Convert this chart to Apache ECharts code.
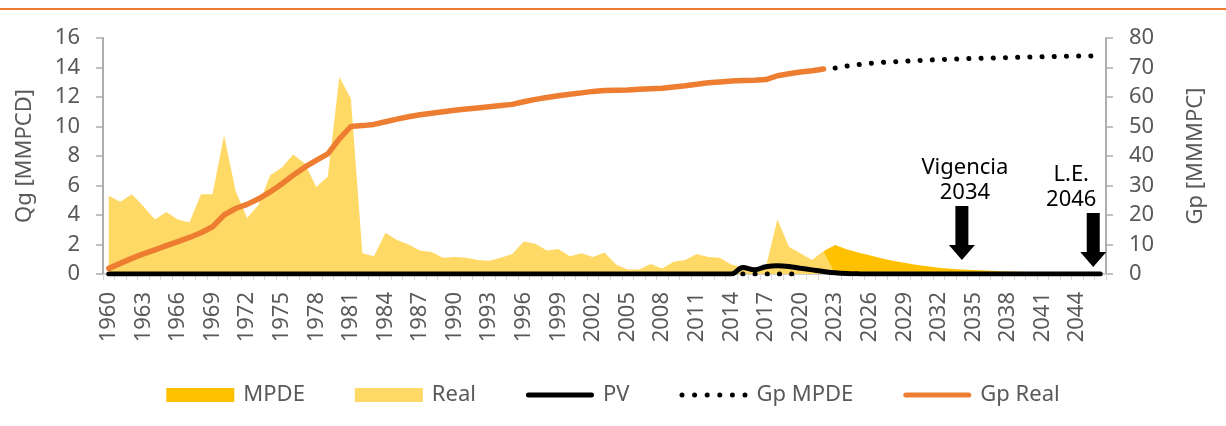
<!DOCTYPE html>
<html>
<head>
<meta charset="utf-8">
<script src="https://cdn.jsdelivr.net/npm/echarts@6/dist/echarts.min.js"></script>
<style>
  html, body { margin: 0; padding: 0; background: #fff; }
  #chart { width: 1226px; height: 426px; }
</style>
</head>
<body>
<div id="chart"></div>
<script>
// años 1960 - 2046
var years = [];
for (let y = 1960; y <= 2046; y++) years.push(String(y));

// Qg real [MMPCD], 1960 - 2023
var realVals = [5.3,4.9,5.4,4.6,3.7,4.2,3.7,3.5,5.4,5.4,
  9.4,5.65,3.8,4.7,6.7,7.2,8.1,7.5,5.9,6.6,
  13.35,11.9,1.4,1.2,2.8,2.3,2.0,1.6,1.5,1.1,
  1.15,1.1,0.95,0.9,1.1,1.35,2.2,2.05,1.6,1.7,
  1.2,1.4,1.15,1.45,0.65,0.3,0.3,0.68,0.38,0.83,
  0.95,1.35,1.15,1.1,0.65,0.45,0.35,0.5,3.7,1.85,
  1.4,0.95,1.56,0];
var realStart = 1960;

// Qg MPDE [MMPCD], 2022 - 2046
var mpdeVals = [1.55,1.97,1.68,1.45,1.27,1.06,0.9,0.77,0.63,0.52,
  0.43,0.36,0.31,0.27,0.23,0.2,0.17,0.15,0.13,0.11,
  0.1,0.09,0.08,0.07,0.06];
var mpdeStart = 2022;

// PV [MMPCD], 2015 - 2025 (cero el resto)
var pvVals = [0.44,0.29,0.49,0.56,0.51,0.39,0.28,0.17,0.08,0.03,0.01];
var pvStart = 2015;

// Gp real [MMMPC], 1960 - 2022
var gpRealVals = [1.9,3.6,5.3,6.8,8.2,9.6,11.0,12.4,14.0,16.0,
  20.0,22.2,23.6,25.5,27.8,30.5,33.5,36.2,38.5,40.7,
  45.8,50.0,50.3,50.7,51.6,52.5,53.3,54.0,54.5,55.0,
  55.5,55.9,56.3,56.7,57.1,57.5,58.4,59.2,59.8,60.4,
  60.9,61.4,61.9,62.2,62.3,62.4,62.6,62.8,63.0,63.4,
  63.8,64.3,64.8,65.1,65.4,65.6,65.7,65.9,67.2,67.9,
  68.5,68.9,69.5];
var gpRealStart = 1960;

// Gp MPDE [MMMPC]: 2015 - 2020 en cero, luego 2023 - 2046
var gpMpdeZeroVals = [0,0,0,0,0,0];
var gpMpdeZeroStart = 2015;
var gpMpdeVals = [69.8,70.5,71.0,71.4,71.7,71.9,72.1,72.3,72.5,72.7,
  72.8,72.95,73.05,73.15,73.25,73.35,73.45,73.55,73.65,73.7,
  73.8,73.85,73.9,73.95];
var gpMpdeStart = 2023;

var yLeftTicks = { min: 0, max: 16, interval: 2 };
var yRightTicks = { min: 0, max: 80, interval: 10 };

function place(vals, start, fill) {
  var out = years.map(function () { return fill; });
  var off = years.indexOf(String(start));
  for (let i = 0; i < vals.length; i++) out[off + i] = vals[i];
  return out;
}

var realData = place(realVals, realStart, null);
var mpdeData = place(mpdeVals, mpdeStart, null);
var pvData = place(pvVals, pvStart, 0);
var gpRealData = place(gpRealVals, gpRealStart, null);
var gpMpdeData = place(gpMpdeZeroVals, gpMpdeZeroStart, null);
gpMpdeVals.forEach(function (v, i) {
  gpMpdeData[years.indexOf(String(gpMpdeStart)) + i] = v;
});

var FONT = 'Noto Sans';
var GREY = '#595959';
var arrow = 'path://M6.5,0 L19.5,0 L19.5,39 L26,39 L13,54 L0,39 L6.5,39 Z';
// iconos de leyenda: linea gruesa y linea de puntos
var lineIcon = 'path://M2.5,0 H65.5 A2.5,2.5 0 0 1 65.5,5 H2.5 A2.5,2.5 0 0 1 2.5,0 Z';
var dotIcon = 'path://';
for (let k = 0; k < 6; k++) {
  let cx = 2.5 + k * 12.6;
  dotIcon += 'M' + (cx - 2.5) + ',2.5 A2.5,2.5 0 1 0 ' + (cx + 2.5) + ',2.5 A2.5,2.5 0 1 0 ' + (cx - 2.5) + ',2.5 Z ';
}

var myChart = echarts.init(document.getElementById('chart'));
myChart.setOption({
  animation: false,
  backgroundColor: '#fff',
  textStyle: { fontFamily: FONT },
  graphic: [{
    type: 'rect',
    left: 0, top: 8,
    shape: { width: 1226, height: 2 },
    style: { fill: '#ED7D31' }
  }],
  grid: { left: 103, right: 120, top: 38, bottom: 152 },
  legend: {
    left: 'center',
    top: 379,
    itemWidth: 68,
    itemHeight: 14,
    itemGap: 50,
    symbolKeepAspect: true,
    textStyle: { fontSize: 22, color: GREY, fontFamily: FONT, padding: [0, 0, 0, 4] },
    data: [
      { name: 'MPDE', icon: 'rect' },
      { name: 'Real', icon: 'rect' },
      { name: 'PV', icon: lineIcon },
      { name: 'Gp MPDE', icon: dotIcon },
      { name: 'Gp Real', icon: lineIcon }
    ]
  },
  xAxis: {
    type: 'category',
    data: years,
    boundaryGap: true,
    axisLine: { show: true, lineStyle: { color: '#BFBFBF', width: 1.5 } },
    axisTick: { show: true, interval: 0, length: 6, lineStyle: { color: '#D9D9D9' } },
    axisLabel: { interval: 2, rotate: 90, margin: 18, fontSize: 22, color: GREY, fontFamily: FONT },
    splitLine: { show: false }
  },
  yAxis: [{
    type: 'value',
    position: 'left',
    min: yLeftTicks.min, max: yLeftTicks.max, interval: yLeftTicks.interval,
    name: 'Qg [MMPCD]',
    nameLocation: 'middle',
    nameGap: 67,
    nameTextStyle: { fontSize: 22, color: GREY, fontFamily: FONT },
    axisLine: { show: true, lineStyle: { color: '#ADADAD', width: 2 } },
    axisTick: { show: true, length: 7, lineStyle: { color: '#ADADAD', width: 1.5 } },
    axisLabel: { margin: 23, fontSize: 22, color: GREY, fontFamily: FONT },
    splitLine: { show: false }
  }, {
    type: 'value',
    position: 'right',
    min: yRightTicks.min, max: yRightTicks.max, interval: yRightTicks.interval,
    name: 'Gp [MMMPC]',
    nameLocation: 'middle',
    nameGap: 79,
    nameTextStyle: { fontSize: 22, color: GREY, fontFamily: FONT },
    axisLine: { show: true, lineStyle: { color: '#ADADAD', width: 2 } },
    axisTick: { show: true, length: 7, lineStyle: { color: '#ADADAD', width: 1.5 } },
    axisLabel: { margin: 23, fontSize: 22, color: GREY, fontFamily: FONT },
    splitLine: { show: false }
  }],
  series: [{
    name: 'MPDE',
    type: 'line',
    yAxisIndex: 0,
    data: mpdeData,
    symbol: 'none',
    itemStyle: { color: '#FFC000' },
    lineStyle: { width: 0, opacity: 0 },
    areaStyle: { color: '#FFC000', opacity: 1 }
  }, {
    name: 'Real',
    type: 'line',
    yAxisIndex: 0,
    data: realData,
    symbol: 'none',
    itemStyle: { color: '#FFD966' },
    lineStyle: { width: 0, opacity: 0 },
    areaStyle: { color: '#FFD966', opacity: 1 }
  }, {
    name: 'PV',
    type: 'line',
    yAxisIndex: 0,
    data: pvData,
    symbol: 'none',
    smooth: 0.4,
    itemStyle: { color: '#000' },
    lineStyle: { color: '#000', width: 5, cap: 'round' },
    markPoint: {
      symbol: arrow,
      symbolSize: [26, 54],
      symbolOffset: [0, '-50%'],
      itemStyle: { color: '#000' },
      label: {
        show: true,
        position: 'top',
        distance: 1,
        color: '#000',
        fontSize: 22,
        lineHeight: 25,
        fontFamily: FONT
      },
      data: [
        { coord: ['2034', 0.95], label: { formatter: 'Vigencia\n2034', offset: [3, 0] } },
        { coord: ['2046', 0.48], symbolOffset: [-7, '-50%'], label: { formatter: 'L.E.\n2046', offset: [-22, 0] } }
      ]
    }
  }, {
    name: 'Gp MPDE',
    type: 'line',
    yAxisIndex: 1,
    data: gpMpdeData,
    symbol: 'none',
    itemStyle: { color: '#000' },
    lineStyle: { color: '#000', width: 5, type: [0.1, 12.1], cap: 'round' }
  }, {
    name: 'Gp Real',
    type: 'line',
    yAxisIndex: 1,
    data: gpRealData,
    symbol: 'none',
    itemStyle: { color: '#ED7D31' },
    lineStyle: { color: '#ED7D31', width: 5.5, cap: 'round' }
  }]
});
</script>
</body>
</html>
